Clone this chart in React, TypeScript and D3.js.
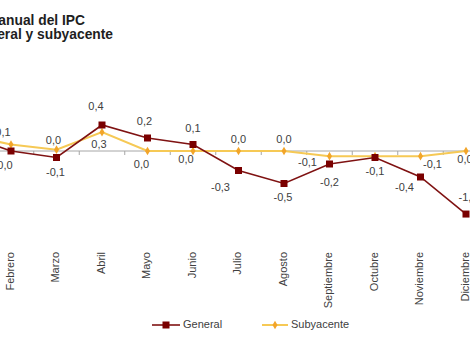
import React from "react";
import * as d3 from "d3";

const months = ["Enero", "Febrero", "Marzo", "Abril", "Mayo", "Junio", "Julio", "Agosto", "Septiembre", "Octubre", "Noviembre", "Diciembre"];
const general = [0.25, 0.0, -0.1, 0.4, 0.2, 0.1, -0.3, -0.5, -0.2, -0.1, -0.4, -0.97];
const subyacente = [0.25, 0.1, 0.02, 0.29, 0.0, 0.0, 0.0, 0.0, -0.08, -0.08, -0.08, 0.0];
const generalLabels = ["0,3", "0,0", "-0,1", "0,4", "0,2", "0,1", "-0,3", "-0,5", "-0,2", "-0,1", "-0,4", "-1,0"];
const subyacenteLabels = ["0,3", "0,1", "0,0", "0,3", "0,0", "0,0", "0,0", "0,0", "-0,1", "", "-0,1", "0,0"];
const titleLines = ["Tasa de variación anual del IPC", "General y subyacente"];

// label offsets (placement only)
const generalOffsets: [number, number][] = [[0, 15], [-6, 15], [-1, 16], [-6, -18], [-3, -16], [0, -15], [-18, 18], [-1, 15], [0, 19], [0, 15], [-16, 11], [2, -16]];
const subyacenteOffsets: [number, number][] = [[0, -12], [-8, -11], [-3, -9], [-3, 13], [-6, 14], [-7, 9], [0, -11], [0, -11], [-22, 7], [0, 15], [12, 9], [-1, 9]];

const W = 470, H = 340;
const FONT = "Liberation Sans, Arial, sans-serif";

export default function App() {
  const x = d3.scaleBand<string>().domain(months).range([-57.25, -57.25 + 45.5 * months.length]);
  const cx = (m: string) => (x(m) as number) + x.bandwidth() / 2;
  const y = d3.scaleLinear().domain([-1.2, 0.6]).range([229, 112]);

  const line = d3.line<number>().x((_, i) => cx(months[i])).y((v) => y(v));
  const ticks = d3.range(months.length + 1).map((k) => -57.25 + 45.5 * k);
  const zero = y(0);
  const diamond = d3.symbol().type(d3.symbolDiamond).size(22)();

  return (
    <div style={{ position: "absolute", left: 0, top: 0 }}>
      <svg width={W} height={H} style={{ display: "block", background: "#fff" }} fontFamily={FONT}>
        <text x={85} y={25} textAnchor="end" fontSize={13.8} fontWeight="bold" fill="#1e1e1e">{titleLines[0]}</text>
        <text x={113} y={39} textAnchor="end" fontSize={13.8} fontWeight="bold" fill="#1e1e1e">{titleLines[1]}</text>

        <line x1={0} x2={W} y1={zero} y2={zero} stroke="#a6a6a6" strokeWidth={1} />
        {ticks.map((t, i) => (
          <line key={i} x1={t} x2={t} y1={zero} y2={zero + 4} stroke="#a6a6a6" strokeWidth={1} />
        ))}

        <path d={line(subyacente) || ""} fill="none" stroke="#f6c955" strokeWidth={2} />
        <path d={line(general) || ""} fill="none" stroke="#7f1212" strokeWidth={1.6} />

        {subyacente.map((v, i) => (
          <path key={"s" + i} d={diamond || ""} transform={`translate(${cx(months[i])},${y(v)})`} fill="#f2a52a" />
        ))}
        {general.map((v, i) => (
          <rect key={"g" + i} x={cx(months[i]) - 3.5} y={y(v) - 3.5} width={7} height={7} fill="#7a0000" />
        ))}

        {general.map((v, i) => (
          <text key={"gl" + i} x={cx(months[i]) + generalOffsets[i][0]} y={y(v) + generalOffsets[i][1]} textAnchor="middle" dominantBaseline="middle" fontSize={11} fill="#404040">{generalLabels[i]}</text>
        ))}
        {subyacente.map((v, i) => (
          <text key={"sl" + i} x={cx(months[i]) + subyacenteOffsets[i][0]} y={y(v) + subyacenteOffsets[i][1]} textAnchor="middle" dominantBaseline="middle" fontSize={11} fill="#404040">{subyacenteLabels[i]}</text>
        ))}

        {months.map((m) => (
          <text key={m} transform={`translate(${cx(m)},252) rotate(-90)`} textAnchor="end" dominantBaseline="middle" fontSize={11} fill="#404040">{m}</text>
        ))}

        <g>
          <line x1={152} x2={180} y1={325} y2={325} stroke="#7f1212" strokeWidth={1.6} />
          <rect x={162.5} y={321.5} width={7} height={7} fill="#7a0000" />
          <text x={183} y={325} dominantBaseline="middle" fontSize={11} fill="#404040">General</text>
          <line x1={262} x2={288} y1={325} y2={325} stroke="#f6c955" strokeWidth={2} />
          <path d={diamond || ""} transform="translate(275,325)" fill="#f2a52a" />
          <text x={291} y={325} dominantBaseline="middle" fontSize={11} fill="#404040">Subyacente</text>
        </g>
      </svg>
    </div>
  );
}
